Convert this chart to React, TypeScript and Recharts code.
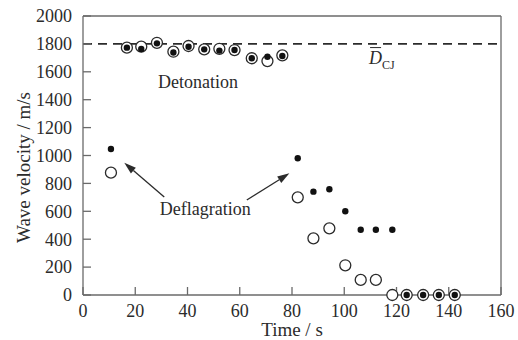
import {
  ScatterChart,
  Scatter,
  XAxis,
  YAxis,
  ReferenceLine,
  ReferenceDot,
  Label,
} from "recharts";

// measurement times (s)
const times = [
  10.7, 16.8, 22.3, 28.3, 34.6, 40.4, 46.4, 52.2, 58, 64.6, 70.6, 76.3, 82.2,
  88.2, 94.3, 100.4, 106.3, 112.1, 118.4, 123.9, 130.2, 136.2, 142.3,
];
// filled dots (m/s)
const filledVel = [
  1047, 1773, 1763, 1804, 1738, 1780, 1761, 1752, 1756, 1697, 1708, 1713, 980,
  741, 758, 600, 468, 468, 468, 0, 0, 0, 0,
];
// open circles (m/s)
const openVel = [
  877, 1773, 1780, 1808, 1744, 1785, 1761, 1765, 1756, 1697, 1677, 1718, 700,
  406, 478, 213, 108, 108, 0, 0, 0, 0, 0,
];
const xTicks = [0, 20, 40, 60, 80, 100, 120, 140, 160];
const yTicks = [0, 200, 400, 600, 800, 1000, 1200, 1400, 1600, 1800, 2000];
const dCJ = 1800;

const openData = times.map((t, i) => ({ t, v: openVel[i] }));
const filledData = times.map((t, i) => ({ t, v: filledVel[i] }));

const FONT = "'Liberation Serif', 'Times New Roman', serif";
const INK = "#2b2b2b";
const AXIS = "#6a6a6a";

const OpenCircle = (p: any) => (
  <circle cx={p.cx} cy={p.cy} r={5.5} fill="#fff" stroke={INK} strokeWidth={1.3} />
);
const FilledDot = (p: any) => <circle cx={p.cx} cy={p.cy} r={3.2} fill="#111" />;

const Arrow = (p: any) => {
  const { x1, y1, x2, y2 } = p;
  const ang = Math.atan2(y2 - y1, x2 - x1);
  const len = 12;
  const w = 3.8;
  const bx = x2 - len * Math.cos(ang);
  const by = y2 - len * Math.sin(ang);
  const nx = -Math.sin(ang) * w;
  const ny = Math.cos(ang) * w;
  return (
    <g>
      <line x1={x1} y1={y1} x2={bx} y2={by} stroke={INK} strokeWidth={1.3} />
      <polygon
        points={`${x2},${y2} ${bx + nx},${by + ny} ${bx - nx},${by - ny}`}
        fill={INK}
      />
    </g>
  );
};

const textAt = (label: string) => (p: any) => (
  <text x={p.cx} y={p.cy} textAnchor="middle" fontFamily={FONT} fontSize={18} fill={INK}>
    {label}
  </text>
);

const DcjLabel = (p: any) => (
  <g fontFamily={FONT} fill={INK}>
    <line x1={p.cx + 1} y1={p.cy - 16} x2={p.cx + 12} y2={p.cy - 16} stroke={INK} strokeWidth={1} />
    <text x={p.cx} y={p.cy} fontSize={18} fontStyle="italic">
      D
    </text>
    <text x={p.cx + 13} y={p.cy + 5} fontSize={12}>
      CJ
    </text>
  </g>
);

// tick text drawn by hand so the serif font sticks
const XTick = (p: any) => (
  <text x={p.x} y={p.y} dy="0.71em" textAnchor="middle" fontFamily={FONT} fontSize={18} fill={INK}>
    {p.payload.value}
  </text>
);
const YTick = (p: any) => (
  <text x={p.x} y={p.y} dy="0.355em" textAnchor="end" fontFamily={FONT} fontSize={18} fill={INK}>
    {p.payload.value}
  </text>
);

export default function App() {
  return (
    <div style={{ position: "absolute", left: 0, top: 0, background: "#fff", fontFamily: FONT }}>
      <ScatterChart
        width={518}
        height={340}
        margin={{ top: 16, right: 17, bottom: 5, left: 23 }}
        style={{ fontFamily: FONT }}
      >
        <XAxis
          type="number"
          dataKey="t"
          domain={[0, 160]}
          ticks={xTicks}
          interval={0}
          height={40}
          tickSize={-8}
          tickMargin={17}
          axisLine={{ stroke: AXIS, strokeWidth: 1.3 }}
          tickLine={{ stroke: AXIS, strokeWidth: 1.3 }}
          tick={XTick}
        >
          <Label
            content={(p: any) => (
              <text
                x={p.viewBox.x + p.viewBox.width / 2}
                y={336}
                textAnchor="middle"
                fontFamily={FONT}
                fontSize={19}
                fill={INK}
              >
                Time / s
              </text>
            )}
          />
        </XAxis>
        <YAxis
          type="number"
          dataKey="v"
          domain={[0, 2000]}
          ticks={yTicks}
          interval={0}
          width={60}
          tickSize={-8}
          tickMargin={19}
          axisLine={{ stroke: AXIS, strokeWidth: 1.3 }}
          tickLine={{ stroke: AXIS, strokeWidth: 1.3 }}
          tick={YTick}
        >
          <Label
            content={(p: any) => {
              const cy = p.viewBox.y + p.viewBox.height / 2 + 12;
              return (
                <text
                  x={30}
                  y={cy}
                  transform={`rotate(-90, 30, ${cy})`}
                  textAnchor="middle"
                  fontFamily={FONT}
                  fontSize={19}
                  fill={INK}
                >
                  Wave velocity / m/s
                </text>
              );
            }}
          />
        </YAxis>
        <ReferenceLine y={2000} stroke={AXIS} strokeWidth={1.3} />
        <ReferenceLine x={160} stroke={AXIS} strokeWidth={1.3} />
        <ReferenceLine y={dCJ} stroke={INK} strokeWidth={1.8} strokeDasharray="9 6" />
        <ReferenceLine
          segment={[
            { x: 31.1, y: 702 },
            { x: 15.8, y: 948 },
          ]}
          shape={Arrow}
        />
        <ReferenceLine
          segment={[
            { x: 62.7, y: 681 },
            { x: 79, y: 872 },
          ]}
          shape={Arrow}
        />
        <ReferenceDot x={44.0} y={1487} r={0} shape={textAt("Detonation")} />
        <ReferenceDot x={46.8} y={573} r={0} shape={textAt("Deflagration")} />
        <ReferenceDot x={109.5} y={1659} r={0} shape={DcjLabel} />
        <Scatter data={openData} shape={OpenCircle} isAnimationActive={false} />
        <Scatter data={filledData} shape={FilledDot} isAnimationActive={false} />
      </ScatterChart>
    </div>
  );
}
